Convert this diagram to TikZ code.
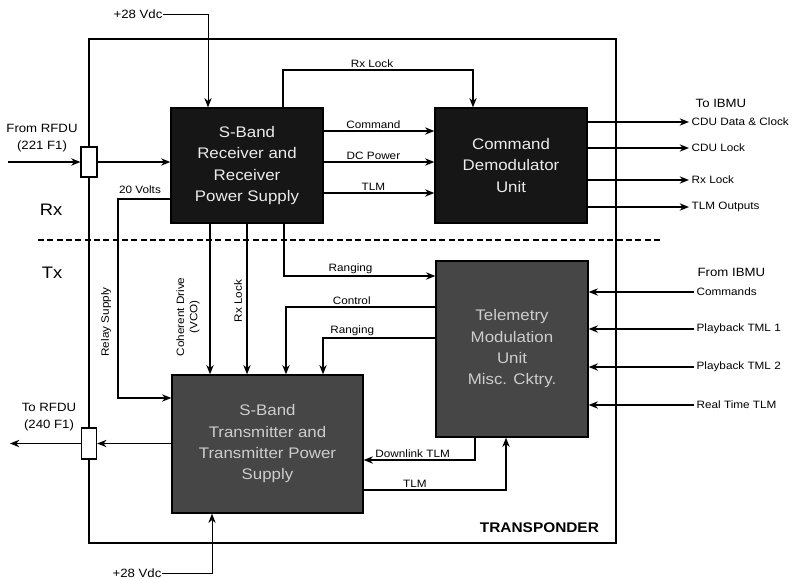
\documentclass[tikz,border=0pt]{standalone}
\usepackage{fontspec}
\setmainfont{Liberation Sans}[FakeStretch=1.1]
\usetikzlibrary{arrows.meta,positioning}

\tikzset{
  blkbox/.style={draw=black, fill=#1, align=center, inner sep=0pt, font=\fontsize{11.5}{16}\selectfont},
  plug/.style={draw, fill=white, line width=0.8pt, inner sep=0pt},
  lab/.style={inner sep=1.5pt, font=\fontsize{8}{10}\selectfont},
  hdr/.style={inner sep=0pt, align=center, font=\fontsize{9}{13}\selectfont},
}

\begin{document}
\begin{tikzpicture}[x=0.75pt, y=-0.75pt, >={Stealth[length=7pt,width=5.5pt]}, line width=1pt]
		\definecolor{rxblack}{RGB}{22,22,22}
		\definecolor{txgray}{RGB}{70,70,70}
		\definecolor{rxtext}{RGB}{235,235,235}
		\definecolor{txtext}{RGB}{205,205,205}
		
		\useasboundingbox[fill=white] (0,0) rectangle (794,579);
		
		% 外框
		\draw (89,39) rectangle (616,543);
		\node[font=\fontsize{10.5}{12}\selectfont\bfseries, anchor=east] (xpdr) at (604,528) {TRANSPONDER};
		
		% Rx / Tx 分界
		\coordinate (dsA) at (38,240);
		\coordinate (dsB) at (663,240);
		\draw[line width=1.6pt, dash pattern=on 4.5pt off 2.5pt] (dsA) -- (dsB);
		\node[font=\fontsize{12.5}{14}\selectfont] (rxlab) at (51,210) {Rx};
		\node[font=\fontsize{12.5}{14}\selectfont] (txlab) at (52,273) {Tx};
		
		% 方框
		\node[blkbox=rxblack, text=rxtext, minimum width=114pt, minimum height=86.25pt] (rx) at (247,165.5) {S-Band\\Receiver and\\Receiver\\Power Supply};
		\node[blkbox=rxblack, text=rxtext, minimum width=114pt, minimum height=86.25pt] (cdu) at (511,165.5) {Command\\Demodulator\\Unit};
		\node[blkbox=txgray, text=txtext, minimum width=114pt, minimum height=132pt] (tel) at (512,349) {Telemetry\\Modulation\\Unit\\Misc. Cktry.};
		\node[blkbox=txgray, text=txtext, minimum width=143.25pt, minimum height=103.5pt] (tx) at (267.5,444) {S-Band\\Transmitter and\\Transmitter Power\\Supply};
		
		% 射频接口
		\node[plug, minimum width=12pt, minimum height=22.5pt] (plug1) at (89,162) {};
		\node[plug, minimum width=11.5pt, minimum height=23.25pt] (plug2) at (89,443.5) {};
		\node[hdr] (lfrom) at (42,138) {From RFDU\\(221 F1)};
		\node[hdr] (lto) at (49,417) {To RFDU\\(240 F1)};
		\coordinate (rfduin) at (8,162);
		\coordinate (rfduout) at (10,443.5);
		\draw[->] (rfduin) -- (plug1.west);
		\draw[->] (plug1.east) -- (rx.west |- plug1);
		\draw[->] (tx.west |- plug2) -- (plug2.east);
		\draw[->] (plug2.west) -- (rfduout);
		
		% +28 Vdc
		\node[hdr] (v28a) at (138,14) {+28 Vdc};
		\node[hdr] (v28b) at (137,573) {+28 Vdc};
		\draw[->, line width=0.6pt] (v28a.east) -| (rx.north -| 208,0);
		\draw[->, line width=0.6pt] (v28b.east) -| (tx.south -| 212,0);
		
		% 接收机 -> 指令解调
		\draw[->] (rx.north -| 283,0) |- (372,70) node[lab, above] (lrxlk) {Rx Lock} -| (cdu.north -| 473,0);
		\draw[->] (rx.east |- 0,131) -- node[lab, above, pos=0.45] (lcmd) {Command} (cdu.west |- 0,131);
		\draw[->] (rx.east |- 0,162) -- node[lab, above, pos=0.45] (ldc) {DC Power} (cdu.west |- 0,162);
		\draw[->] (rx.east |- 0,193) -- node[lab, above, pos=0.45] (ltlm) {TLM} (cdu.west |- 0,193);
		
		% 接收机 -> 发射机
		\draw[->] (rx.west |- 0,199) -| (118,300) |- (tx.west |- 0,398);
		\node[lab] (l20v) at (140,190) {20 Volts};
		\node[lab, rotate=90] (lrelay) at (106,322) {Relay Supply};
		\draw[->] (rx.south -| 210,0) -- (tx.north -| 210,0);
		\node[lab, rotate=90, align=center] (lvco) at (188,317) {Coherent Drive\\(VCO)};
		\draw[->] (rx.south -| 247,0) -- (tx.north -| 247,0);
		\node[lab, rotate=90] (lrxlk2) at (238,301) {Rx Lock};
		
		% 遥测调制单元
		\draw[->] (rx.south -| 284,0) |- node[lab, above, pos=0.72] (lrng) {Ranging} (tel.west |- 0,276);
		\draw[->] (tel.west |- 0,307) -| node[lab, above, pos=0.28] (lctl) {Control} (tx.north -| 286,0);
		\draw[->] (tel.west |- 0,338) -| node[lab, above, pos=0.37] (lrng2) {Ranging} (tx.north -| 323,0);
		\draw[->] (tel.south -| 475,0) |- node[lab, above, pos=0.78] (ldl) {Downlink TLM} (tx.east |- 0,460);
		\draw[->] (tx.east |- 0,490) -| node[lab, above, pos=0.18] (ltlm2) {TLM} (tel.south -| 506,0);
		
		% IBMU 接口
		\node[hdr, anchor=west] (toibmu) at (695,103) {To IBMU};
		\node[hdr, anchor=west] (fromibmu) at (697,272) {From IBMU};
		\foreach \y/\t/\n in {122/CDU Data \& Clock/oa, 148/CDU Lock/ob, 180/Rx Lock/oc, 207/TLM Outputs/od} {
			\node[lab, anchor=west] (\n) at (689,\y) {\t};
			\draw[->] (cdu.east |- \n) -- (\n.west);
		}
		\foreach \y/\t/\n in {292/Commands/ia, 329/Playback TML 1/ib, 367/Playback TML 2/ic, 405/Real Time TLM/id} {
			\node[lab, anchor=west] (\n) at (694,\y) {\t};
			\draw[->] (\n.west) -- (tel.east |- \n);
		}
	\end{tikzpicture}
\end{document}
